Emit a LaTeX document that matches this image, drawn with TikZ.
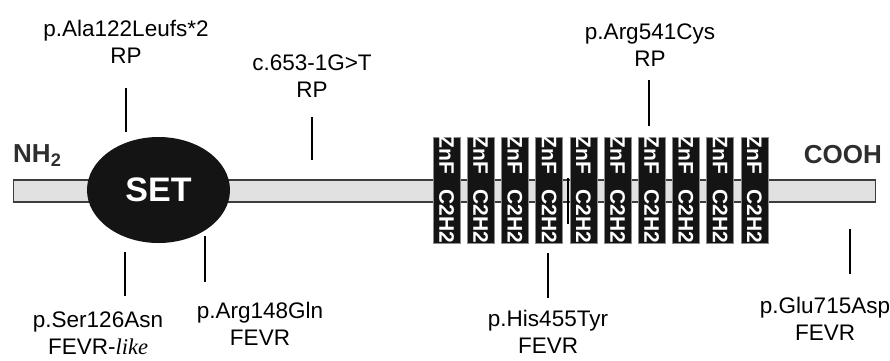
\documentclass[tikz,border=0pt]{standalone}
\usepackage{fontspec}
\setmainfont{Liberation Sans}
\newfontfamily\likefont{Liberation Serif}
\usepackage{xcolor}
\definecolor{ChainGrey}{HTML}{E1E1E1}
\definecolor{ChainLine}{HTML}{3C3C3C}
\definecolor{DomainInk}{HTML}{141414}
\definecolor{TermInk}{HTML}{2E2E2E}
\usetikzlibrary{positioning,shapes.geometric}

\begin{document}
\begin{tikzpicture}[
  x=1pt,y=-1pt,
  chain/.style={draw=ChainLine,fill=ChainGrey,line width=1.4pt,inner sep=0pt,minimum width=862pt,minimum height=22pt},
  setdom/.style={ellipse,fill=DomainInk,text=white,inner sep=0pt,minimum width=143pt,minimum height=106pt,font=\fontsize{34}{34}\selectfont\bfseries},
  zinc/.style={fill=DomainInk,draw=black!45,line width=0.6pt,inner sep=0pt,minimum width=27pt,minimum height=106pt},
  zinctext/.style={text=white,rotate=-90,inner sep=0pt,font=\fontsize{21}{21}\selectfont\bfseries},
  term/.style={text=TermInk,inner sep=0pt,font=\fontsize{26}{26}\selectfont\bfseries},
  mut/.style={align=center,anchor=north,inner sep=0pt,font=\fontsize{22.5}{27}\selectfont},
  marker/.style={line width=2pt,black}
]
\useasboundingbox (0,0) rectangle (890,360);

% protein chain with domains
\node[chain,anchor=west] (chain) at (13,191) {};
\node[setdom] (set) at (158.5,190) {SET};
\foreach \i in {0,...,9}{
  \node[zinc] (znf\i) at (446.5+34.2*\i,190) {};
  \node[zinctext] (znfa\i) at (446.5+34.2*\i,155) {ZnF};
  \node[zinctext] (znfb\i) at (446.5+34.2*\i,216) {C2H2};
}
\node[term,anchor=base west] (nh) at (13,162) {NH\textsubscript{2}};
\node[term,anchor=base east] (cooh) at (882,163) {COOH};

% variants above the chain
\node[mut] (ala) at (126,20) {p.Ala122Leufs*2\\RP};
\node[mut] (splice) at (312,55) {c.653-1G>T\\RP};
\node[mut] (arg541) at (650,24) {p.Arg541Cys\\RP};

% variants below the chain
\node[mut] (ser) at (98,312) {p.Ser126Asn\\FEVR-{\likefont\itshape like}};
\node[mut] (arg148) at (260,302) {p.Arg148Gln\\FEVR};
\node[mut] (his) at (548,310) {p.His455Tyr\\FEVR};
\node[mut] (glu) at (825,297) {p.Glu715Asp\\FEVR};

% marker lines
\coordinate (ala-a) at (126,88);    \coordinate (ala-b) at (126,132);
\coordinate (splice-a) at (312,117); \coordinate (splice-b) at (312,160);
\coordinate (arg541-a) at (649,80); \coordinate (arg541-b) at (649,126);
\coordinate (ser-a) at (125,252);   \coordinate (ser-b) at (125,296);
\coordinate (arg148-a) at (205,236); \coordinate (arg148-b) at (205,282);
\coordinate (his-a) at (548,253);   \coordinate (his-b) at (548,298);
\coordinate (glu-a) at (850,229);   \coordinate (glu-b) at (850,274);
\coordinate (mid-a) at (568,178);   \coordinate (mid-b) at (568,224);
\draw[marker] (ala-a) -- (ala-b);
\draw[marker] (splice-a) -- (splice-b);
\draw[marker] (arg541-a) -- (arg541-b);
\draw[marker] (ser-a) -- (ser-b);
\draw[marker] (arg148-a) -- (arg148-b);
\draw[marker] (his-a) -- (his-b);
\draw[marker] (glu-a) -- (glu-b);
\draw[marker] (mid-a) -- (mid-b);
\end{tikzpicture}
\end{document}
